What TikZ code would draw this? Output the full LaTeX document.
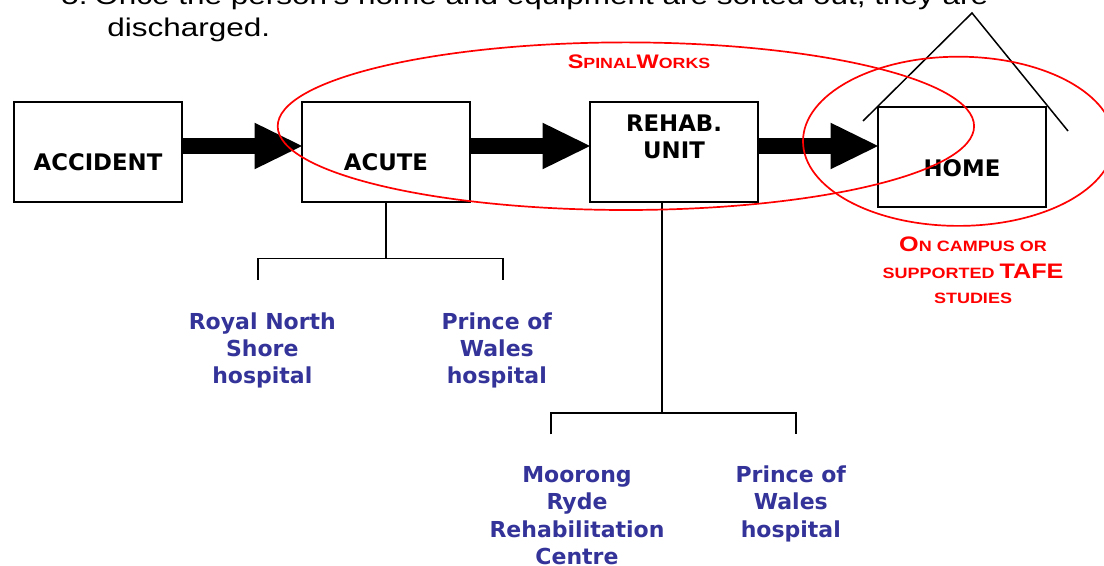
\documentclass[tikz,border=0pt]{standalone}
\usepackage{fontspec}
\setmainfont{Liberation Sans}
\newfontfamily\slidefont{Liberation Sans}[FakeStretch=1.23]
\newfontfamily\labelfont{DejaVu Sans}
\newfontfamily\zonefont{Liberation Sans}[FakeStretch=1.2]
\usetikzlibrary{arrows.meta, positioning, calc}
\definecolor{sitecol}{RGB}{51,51,153}
\newcommand{\boxlabel}[2]{\raisebox{#1}[0pt][0pt]{#2}}

\begin{document}
\begin{tikzpicture}[
    box/.style={draw, line width=1pt, minimum width=84pt, minimum height=50pt, inner sep=0pt, outer sep=0pt,
                font=\labelfont\bfseries\fontsize{11.4pt}{13.3pt}\selectfont},
    flow/.style={line width=8pt, -{Triangle[length=23.75pt, width=23.3pt, line width=0pt]}},
    branch/.style={line width=0.9pt},
    roof/.style={line width=0.75pt},
    site/.style={text=sitecol, font=\labelfont\bfseries\fontsize{11pt}{13.7pt}\selectfont, align=center, inner sep=0pt},
    zone/.style={draw=red, line width=0.85pt},
    zonetext/.style={text=red, font=\zonefont\bfseries\fontsize{7.5pt}{13.5pt}\selectfont, align=center, inner sep=0pt},
    slide/.style={font=\slidefont\fontsize{12.8pt}{15.35pt}\selectfont, inner sep=0pt, anchor=base west},
    node distance=60pt,
]
\useasboundingbox (0,0) rectangle (552pt,-283pt);

% slide text, first line cut off by the frame
\node[slide] (stepnum) at (30.5pt,-2.2pt) {5.};
\node[slide] (stepline) at (47pt,-2.2pt) {Once the person’s home and equipment are sorted out, they are};
\node[slide] (stepend) at (53.5pt,-18.35pt) {discharged.};

% care pathway
\node[box] (accident) at (49pt,-76pt) {\boxlabel{-9.35pt}{ACCIDENT}};
\node[box, right=of accident] (acute) {\boxlabel{-9.35pt}{ACUTE}};
\node[box, right=of acute] (rehab) {\boxlabel{-3.15pt}{\begin{tabular}[b]{@{}c@{}}REHAB.\\UNIT\end{tabular}}};
\node[box, right=of rehab, yshift=-2.75pt] (home) {\boxlabel{-9.6pt}{HOME}};

\draw[flow] ([yshift=3pt]accident.east) -- ([yshift=3pt]acute.west);
\draw[flow] ([yshift=3pt]acute.east) -- ([yshift=3pt]rehab.west);
\draw[flow] ([yshift=3pt]rehab.east) -- ([yshift=3pt]rehab.east -| home.west);

% roof over home
\coordinate (roofapex) at (486pt,-6.5pt);
\coordinate (roofleft) at (431.5pt,-60.5pt);
\coordinate (roofright) at (534pt,-65.5pt);
\draw[roof] (roofleft) -- (roofapex) -- (roofright);

% acute hospitals
\coordinate[below=28.3pt of acute.south] (acutefork);
\coordinate[below left=10.7pt and 64.2pt of acutefork] (rnshend);
\coordinate[below right=10.7pt and 58.65pt of acutefork] (powaend);
\draw[branch] (acute.south) -- (acutefork);
\draw[branch] (rnshend) |- (acutefork) -| (powaend);
\node[site, below=16pt of rnshend, xshift=2.35pt] (rnsh) {Royal North\\Shore\\hospital};
\node[site, below=16pt of powaend, xshift=-3.25pt] (powa) {Prince of\\Wales\\hospital};

% rehab units
\coordinate[below=105.65pt of rehab.south, xshift=-6.15pt] (rehabfork);
\coordinate[below left=10.5pt and 55.35pt of rehabfork] (moorend);
\coordinate[below right=10.5pt and 67.15pt of rehabfork] (powbend);
\draw[branch] ([xshift=-6.15pt]rehab.south) -- (rehabfork);
\draw[branch] (moorend) |- (rehabfork) -| (powbend);
\node[site, below=15.85pt of moorend, xshift=13pt] (moorong) {Moorong\\Ryde\\Rehabilitation\\Centre};
\node[site, below=15.5pt of powbend, xshift=-2.6pt] (powb) {Prince of\\Wales\\hospital};

% SpinalWorks and home zones
\coordinate (spinalc) at (312.95pt,-63.1pt);
\coordinate (homec) at (479.25pt,-70.65pt);
\draw[zone] (spinalc) ellipse [x radius=174.1pt, y radius=41.9pt];
\draw[zone] (homec) ellipse [x radius=77.75pt, y radius=42.3pt];
\node[zonetext, anchor=base] (spinallabel) at (319.5pt,-34.15pt)
    {{\fontsize{9.8pt}{9.8pt}\selectfont S}{\fontsize{7.4pt}{7.4pt}\selectfont PINAL}{\fontsize{9.8pt}{9.8pt}\selectfont W}{\fontsize{7.4pt}{7.4pt}\selectfont ORKS}};
\node[zonetext, below=14.6pt of home, xshift=5.5pt] (campus)
    {{\fontsize{10.5pt}{13.5pt}\selectfont O}N CAMPUS OR\\SUPPORTED {\fontsize{10.5pt}{13.5pt}\selectfont TAFE}\\[-1.2pt]STUDIES};
\end{tikzpicture}
\end{document}
